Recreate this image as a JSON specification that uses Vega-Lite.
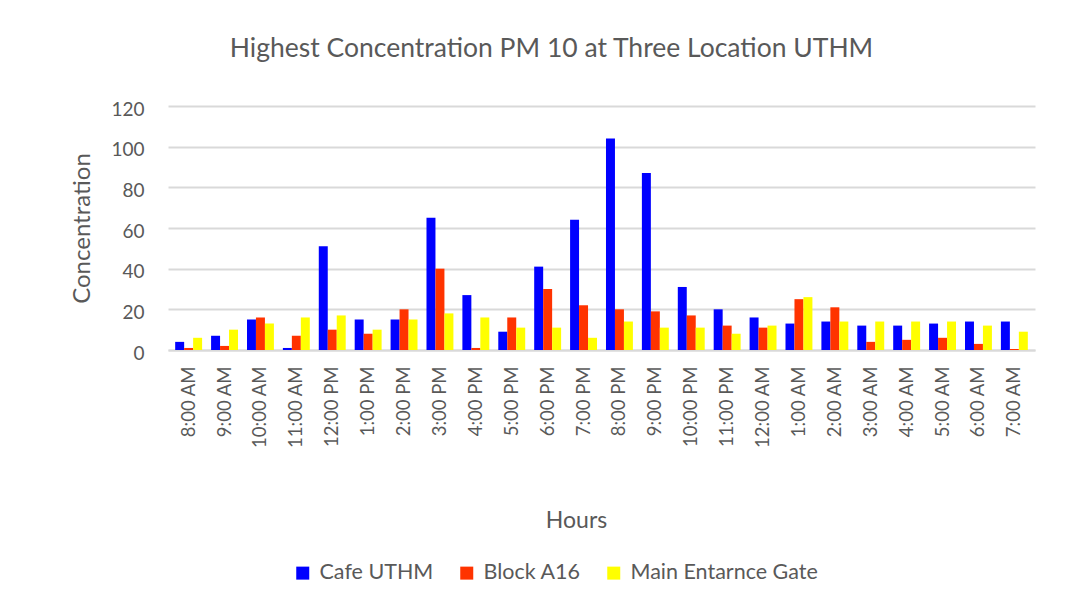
{
  "$schema": "https://vega.github.io/schema/vega-lite/v6.json",
  "autosize": "none",
  "width": 867,
  "height": 244,
  "padding": {"left": 168, "top": 106, "right": 48, "bottom": 255},
  "background": "white",
  "title": {
    "text": "Highest Concentration PM 10 at Three Location UTHM",
    "font": "Lato",
    "fontSize": 26.5,
    "fontWeight": "normal",
    "color": "#595959",
    "anchor": "middle",
    "dx": -50,
    "offset": 38
  },
  "data": {
    "values": [
      {"hour": "8:00 AM", "location": "Cafe UTHM", "value": 4},
      {"hour": "8:00 AM", "location": "Block A16", "value": 1},
      {"hour": "8:00 AM", "location": "Main Entarnce Gate", "value": 6},
      {"hour": "9:00 AM", "location": "Cafe UTHM", "value": 7},
      {"hour": "9:00 AM", "location": "Block A16", "value": 2},
      {"hour": "9:00 AM", "location": "Main Entarnce Gate", "value": 10},
      {"hour": "10:00 AM", "location": "Cafe UTHM", "value": 15},
      {"hour": "10:00 AM", "location": "Block A16", "value": 16},
      {"hour": "10:00 AM", "location": "Main Entarnce Gate", "value": 13},
      {"hour": "11:00 AM", "location": "Cafe UTHM", "value": 1},
      {"hour": "11:00 AM", "location": "Block A16", "value": 7},
      {"hour": "11:00 AM", "location": "Main Entarnce Gate", "value": 16},
      {"hour": "12:00 PM", "location": "Cafe UTHM", "value": 51},
      {"hour": "12:00 PM", "location": "Block A16", "value": 10},
      {"hour": "12:00 PM", "location": "Main Entarnce Gate", "value": 17},
      {"hour": "1:00 PM", "location": "Cafe UTHM", "value": 15},
      {"hour": "1:00 PM", "location": "Block A16", "value": 8},
      {"hour": "1:00 PM", "location": "Main Entarnce Gate", "value": 10},
      {"hour": "2:00 PM", "location": "Cafe UTHM", "value": 15},
      {"hour": "2:00 PM", "location": "Block A16", "value": 20},
      {"hour": "2:00 PM", "location": "Main Entarnce Gate", "value": 15},
      {"hour": "3:00 PM", "location": "Cafe UTHM", "value": 65},
      {"hour": "3:00 PM", "location": "Block A16", "value": 40},
      {"hour": "3:00 PM", "location": "Main Entarnce Gate", "value": 18},
      {"hour": "4:00 PM", "location": "Cafe UTHM", "value": 27},
      {"hour": "4:00 PM", "location": "Block A16", "value": 1},
      {"hour": "4:00 PM", "location": "Main Entarnce Gate", "value": 16},
      {"hour": "5:00 PM", "location": "Cafe UTHM", "value": 9},
      {"hour": "5:00 PM", "location": "Block A16", "value": 16},
      {"hour": "5:00 PM", "location": "Main Entarnce Gate", "value": 11},
      {"hour": "6:00 PM", "location": "Cafe UTHM", "value": 41},
      {"hour": "6:00 PM", "location": "Block A16", "value": 30},
      {"hour": "6:00 PM", "location": "Main Entarnce Gate", "value": 11},
      {"hour": "7:00 PM", "location": "Cafe UTHM", "value": 64},
      {"hour": "7:00 PM", "location": "Block A16", "value": 22},
      {"hour": "7:00 PM", "location": "Main Entarnce Gate", "value": 6},
      {"hour": "8:00 PM", "location": "Cafe UTHM", "value": 104},
      {"hour": "8:00 PM", "location": "Block A16", "value": 20},
      {"hour": "8:00 PM", "location": "Main Entarnce Gate", "value": 14},
      {"hour": "9:00 PM", "location": "Cafe UTHM", "value": 87},
      {"hour": "9:00 PM", "location": "Block A16", "value": 19},
      {"hour": "9:00 PM", "location": "Main Entarnce Gate", "value": 11},
      {"hour": "10:00 PM", "location": "Cafe UTHM", "value": 31},
      {"hour": "10:00 PM", "location": "Block A16", "value": 17},
      {"hour": "10:00 PM", "location": "Main Entarnce Gate", "value": 11},
      {"hour": "11:00 PM", "location": "Cafe UTHM", "value": 20},
      {"hour": "11:00 PM", "location": "Block A16", "value": 12},
      {"hour": "11:00 PM", "location": "Main Entarnce Gate", "value": 8},
      {"hour": "12:00 AM", "location": "Cafe UTHM", "value": 16},
      {"hour": "12:00 AM", "location": "Block A16", "value": 11},
      {"hour": "12:00 AM", "location": "Main Entarnce Gate", "value": 12},
      {"hour": "1:00 AM", "location": "Cafe UTHM", "value": 13},
      {"hour": "1:00 AM", "location": "Block A16", "value": 25},
      {"hour": "1:00 AM", "location": "Main Entarnce Gate", "value": 26},
      {"hour": "2:00 AM", "location": "Cafe UTHM", "value": 14},
      {"hour": "2:00 AM", "location": "Block A16", "value": 21},
      {"hour": "2:00 AM", "location": "Main Entarnce Gate", "value": 14},
      {"hour": "3:00 AM", "location": "Cafe UTHM", "value": 12},
      {"hour": "3:00 AM", "location": "Block A16", "value": 4},
      {"hour": "3:00 AM", "location": "Main Entarnce Gate", "value": 14},
      {"hour": "4:00 AM", "location": "Cafe UTHM", "value": 12},
      {"hour": "4:00 AM", "location": "Block A16", "value": 5},
      {"hour": "4:00 AM", "location": "Main Entarnce Gate", "value": 14},
      {"hour": "5:00 AM", "location": "Cafe UTHM", "value": 13},
      {"hour": "5:00 AM", "location": "Block A16", "value": 6},
      {"hour": "5:00 AM", "location": "Main Entarnce Gate", "value": 14},
      {"hour": "6:00 AM", "location": "Cafe UTHM", "value": 14},
      {"hour": "6:00 AM", "location": "Block A16", "value": 3},
      {"hour": "6:00 AM", "location": "Main Entarnce Gate", "value": 12},
      {"hour": "7:00 AM", "location": "Cafe UTHM", "value": 14},
      {"hour": "7:00 AM", "location": "Block A16", "value": 0.5},
      {"hour": "7:00 AM", "location": "Main Entarnce Gate", "value": 9}
    ]
  },
  "mark": {"type": "bar"},
  "encoding": {
    "x": {
      "field": "hour",
      "type": "nominal",
      "sort": null,
      "scale": {"paddingInner": 0.25, "paddingOuter": 0.2},
      "axis": {
        "title": "Hours",
        "titleFont": "Lato",
        "titleFontSize": 23,
        "titleFontWeight": "normal",
        "titleColor": "#595959",
        "titleX": 408,
        "titlePadding": 62,
        "labelAngle": -90,
        "labelFont": "Lato",
        "labelFontSize": 18.5,
        "labelColor": "#595959",
        "labelPadding": 16,
        "ticks": false,
        "domain": true,
        "domainColor": "#d9d9d9",
        "domainWidth": 2
      }
    },
    "xOffset": {
      "field": "location",
      "type": "nominal",
      "sort": ["Cafe UTHM", "Block A16", "Main Entarnce Gate"]
    },
    "y": {
      "field": "value",
      "type": "quantitative",
      "scale": {"domain": [0, 120]},
      "axis": {
        "title": "Concentration",
        "titleFont": "Lato",
        "titleFontSize": 24,
        "titleFontWeight": "normal",
        "titleColor": "#595959",
        "titlePadding": 16,
        "values": [0, 20, 40, 60, 80, 100, 120],
        "labelFont": "Lato",
        "labelFontSize": 19,
        "labelColor": "#595959",
        "labelPadding": 24,
        "labelOffset": 3,
        "ticks": false,
        "domain": false,
        "grid": true,
        "gridColor": "#d9d9d9",
        "gridWidth": 2
      }
    },
    "color": {
      "field": "location",
      "type": "nominal",
      "sort": ["Cafe UTHM", "Block A16", "Main Entarnce Gate"],
      "scale": {
        "domain": ["Cafe UTHM", "Block A16", "Main Entarnce Gate"],
        "range": ["#0000ff", "#ff3300", "#ffff00"]
      },
      "legend": {
        "title": null,
        "orient": "none",
        "direction": "horizontal",
        "legendX": 124,
        "legendY": 456,
        "symbolType": "square",
        "symbolSize": 169,
        "symbolStrokeWidth": 0,
        "labelFont": "Lato",
        "labelFontSize": 21.5,
        "labelColor": "#595959",
        "labelOffset": 6,
        "labelLimit": 0,
        "columnPadding": 22
      }
    }
  },
  "config": {
    "view": {"stroke": null}
  }
}
